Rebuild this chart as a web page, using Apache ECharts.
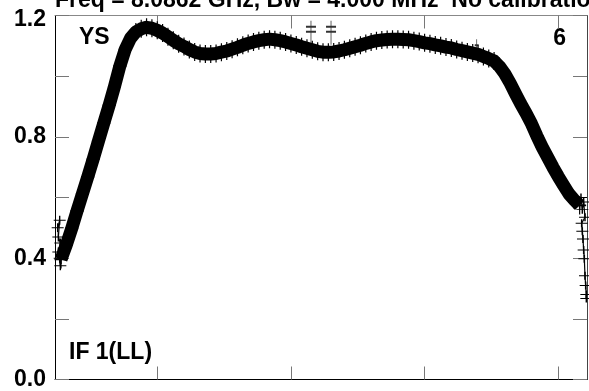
<!DOCTYPE html>
<html><head><meta charset="utf-8">
<script src="https://cdn.jsdelivr.net/npm/echarts@6/dist/echarts.min.js"></script>
<style>html,body{margin:0;padding:0;background:#fff}#c{width:589px;height:391px}</style>
</head><body><div id="c"></div>
<script>
// ---- text ----
const titleText = 'Freq = 8.0862 GHz, Bw = 4.000 MHz  No calibration';
const sourceLabel = 'YS';
const panelLabel = '6';
const ifLabel = 'IF 1(LL)';
const yTickLabels = ['0.0', '0.4', '0.8', '1.2'];
const xTickChannels = [100, 200, 300, 400];

// ---- data (channel, amplitude) ----
const bandStart = 28, bandStep = 4;   // channels 28, 32, ... 416
const bandValues = [
  0.396, 0.444, 0.498, 0.556, 0.612, 0.668, 0.726, 0.786, 0.845, 0.904,
  0.966, 1.033, 1.088, 1.125, 1.146, 1.156, 1.161, 1.158, 1.151, 1.142,
  1.130, 1.118, 1.107, 1.098, 1.088, 1.080, 1.075, 1.073, 1.073, 1.075,
  1.079, 1.083, 1.089, 1.095, 1.102, 1.108, 1.113, 1.117, 1.120, 1.122,
  1.120, 1.117, 1.113, 1.108, 1.103, 1.097, 1.092, 1.087, 1.082, 1.079,
  1.079, 1.080, 1.083, 1.087, 1.092, 1.097, 1.102, 1.108, 1.113, 1.117,
  1.119, 1.121, 1.122, 1.122, 1.121, 1.120, 1.117, 1.114, 1.110, 1.107,
  1.103, 1.100, 1.096, 1.093, 1.088, 1.084, 1.080, 1.076, 1.072, 1.065,
  1.058, 1.050, 1.032, 1.008, 0.977, 0.942, 0.908, 0.877, 0.843, 0.803,
  0.766, 0.733, 0.700, 0.669, 0.640, 0.612, 0.592, 0.574
];
const leftEdgeChannels = [25.5, 27, 26, 27.5, 26, 27.5, 27, 28];
const leftEdgeValues   = [0.500, 0.525, 0.470, 0.450, 0.420, 0.375, 0.400, 0.396];
const rightEdgeChannels = [416, 417, 418, 419, 420, 417.5, 418, 418.5, 419, 419.5, 420, 420.5, 421, 421];
const rightEdgeValues   = [0.574, 0.600, 0.560, 0.585, 0.535, 0.515, 0.489, 0.463, 0.427, 0.398, 0.342, 0.310, 0.280, 0.267];
const spikeChannels = [215, 230, 339];
const spikeValues   = [1.143, 1.143, 1.102];

const FONT = 'Liberation Sans';
const FS = 23;
const crossPath = 'path://M0,8H10M5,0V16';
const dblCrossPath = 'path://M5,0V24M0,6H10M0,11H10';

const chart = echarts.init(document.getElementById('c'), null, {renderer: 'canvas'});

const xCommon = {
  type: 'value', min: 23.5, max: 421.5,
  splitLine: {show: false},
  axisLabel: {show: false},
  axisTick: {show: true, inside: true, length: 13, customValues: xTickChannels, lineStyle: {color: '#777', width: 1}}
};
const yCommon = {
  type: 'value', min: 0, max: 1.2, interval: 0.2,
  splitLine: {show: false},
  axisTick: {show: true, inside: true, length: 14, lineStyle: {color: '#777', width: 1}}
};
const txt = (t, x, y, align) => ({
  type: 'text', x: x, y: y, silent: true,
  style: {text: t, font: 'bold ' + FS + 'px "' + FONT + '"', fill: '#000',
          textAlign: align, textVerticalAlign: 'middle', align: align, verticalAlign: 'middle'}
});

const option = {
  backgroundColor: '#fff',
  animation: false,
  grid: {left: 55, right: 2, top: 14, bottom: 9, containLabel: false},
  xAxis: [
    Object.assign({}, xCommon, {position: 'bottom', axisLine: {show: true, onZero: false, lineStyle: {color: '#000', width: 1}}}),
    Object.assign({}, xCommon, {position: 'top', axisLine: {show: true, onZero: false, lineStyle: {color: '#888', width: 1}}})
  ],
  yAxis: [
    Object.assign({}, yCommon, {
      position: 'left',
      axisLine: {show: true, onZero: false, lineStyle: {color: '#000', width: 1}},
      axisLabel: {
        show: true, margin: 9, color: '#000',
        fontFamily: FONT, fontWeight: 'bold', fontSize: FS,
        lineHeight: 8, padding: [6, 0, 0, 0],
        formatter: function (v) {
          const s = v.toFixed(1);
          if (yTickLabels.indexOf(s) < 0) return '';
          return s === yTickLabels[yTickLabels.length - 1] ? '\n' + s : s;
        }
      }
    }),
    Object.assign({}, yCommon, {
      position: 'right',
      axisLine: {show: true, onZero: false, lineStyle: {color: '#444', width: 1}},
      axisLabel: {show: false}
    })
  ],
  graphic: [
    txt(titleText, 55, 0.5, 'left'),
    txt(sourceLabel, 79, 38, 'left'),
    txt(panelLabel, 566, 38.5, 'right'),
    txt(ifLabel, 69, 352.5, 'left')
  ],
  series: [
    {
      type: 'line', name: 'band', silent: true,
      data: bandValues.map((v, i) => [bandStart + bandStep * i, v]),
      symbol: crossPath, symbolSize: [13, 18], showAllSymbol: true,
      itemStyle: {color: '#000', borderColor: '#000', borderWidth: 1.4},
      lineStyle: {color: '#000', width: 13, join: 'round', cap: 'butt'},
      z: 3
    },
    {
      type: 'line', name: 'leftEdge', silent: true,
      data: leftEdgeChannels.map((c, i) => [c, leftEdgeValues[i]]),
      symbol: crossPath, symbolSize: [12, 9], showAllSymbol: true,
      itemStyle: {color: '#000', borderColor: '#000', borderWidth: 1.2},
      lineStyle: {color: '#000', width: 1.2},
      z: 4
    },
    {
      type: 'line', name: 'rightEdge', silent: true,
      data: rightEdgeChannels.map((c, i) => [c, rightEdgeValues[i]]),
      symbol: crossPath, symbolSize: [12, 8], showAllSymbol: true,
      itemStyle: {color: '#000', borderColor: '#000', borderWidth: 1.2},
      lineStyle: {color: '#000', width: 1.2},
      z: 4
    },
    {
      type: 'scatter', name: 'spikes', silent: true,
      data: spikeChannels.map((c, i) => ({value: [c, spikeValues[i]], symbol: i < 2 ? dblCrossPath : crossPath, symbolSize: i < 2 ? [10, 24] : [4, 12]})),
      itemStyle: {color: '#000', borderColor: '#000', borderWidth: 1.2},
      z: 4
    }
  ]
};
chart.setOption(option);
</script>
</body></html>
